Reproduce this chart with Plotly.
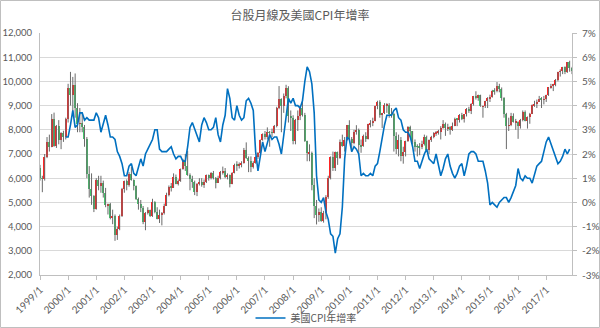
import plotly.graph_objects as go

# Monthly categories 1999/1 .. 2017/12
months = [f"{y}/{m}" for y in range(1999, 2018) for m in range(1, 13)]

# TAIEX monthly open / high / low / close
opens = [
    6418, 5998, 5975, 6880, 7500, 7300, 8467, 7326, 8157, 7598, 7854, 7721,
    8448, 9744, 9435, 9854, 8900, 8250, 8265, 8114, 7616, 6185, 5544, 5256,
    4739, 5936, 5674, 5797, 5381, 4880, 4930, 4350, 4450, 3636, 3903, 4441,
    5551, 5872, 5715, 6167, 5915, 5675, 5153, 4940, 4764, 4191, 4579, 4680,
    4452, 5000, 4600, 4322, 4480, 4555, 4872, 5318, 5650, 5612, 6045, 5771,
    5890, 6375, 6750, 6522, 6117, 5977, 5840, 5420, 5765, 5845, 5706, 5845,
    6140, 5994, 6207, 6006, 5819, 6011, 6241, 6312, 6033, 6118, 5765, 6203,
    6548, 6532, 6561, 6613, 7171, 6847, 6704, 6455, 6611, 6884, 7021, 7567,
    7823, 7699, 7901, 7884, 7875, 8145, 8883, 9287, 8982, 9411, 9711, 8586,
    8506, 7521, 8413, 8572, 8920, 8619, 7524, 7024, 7046, 5720, 4870, 4460,
    4591, 4248, 4557, 5211, 5992, 6890, 6432, 7077, 6826, 7509, 7340, 7582,
    8188, 7640, 7436, 7920, 8004, 7374, 7329, 7760, 7616, 8238, 8287, 8372,
    8973, 9145, 8600, 8683, 9008, 9044, 8652, 8644, 7741, 7225, 7588, 6904,
    7072, 7517, 8121, 7933, 7501, 7301, 7296, 7270, 7397, 7715, 7166, 7580,
    7699, 7850, 7907, 7918, 8093, 8254, 8062, 8107, 7993, 8173, 8450, 8406,
    8611, 8462, 8639, 8849, 8791, 9075, 9393, 9315, 9436, 8966, 8974, 9187,
    9307, 9361, 9622, 9586, 9820, 9701, 9323, 8665, 8174, 8181, 8554, 8320,
    8338, 8145, 8411, 8745, 8377, 8535, 8667, 9008, 9069, 9166, 9290, 9240,
    9254, 9448, 9751, 9812, 9872, 10041, 10395, 10427, 10586, 10384, 10794, 10560,
]
highs = [
    6550, 6100, 7000, 7700, 7800, 8650, 8710, 8200, 8400, 7900, 7960, 8500,
    9900, 10393, 10186, 10328, 9100, 8900, 8700, 8200, 7700, 6500, 6200, 5300,
    6000, 6100, 6100, 5900, 5600, 4950, 4980, 4700, 4500, 4000, 4500, 5600,
    5900, 5950, 6250, 6480, 5950, 5700, 5200, 5100, 4850, 4600, 4800, 4700,
    5150, 5050, 4800, 4700, 4600, 4950, 5400, 5700, 5800, 6200, 6150, 5950,
    6400, 6800, 7000, 7135, 6200, 6100, 5900, 5800, 6000, 6000, 5950, 6150,
    6150, 6250, 6300, 6050, 6100, 6300, 6480, 6420, 6200, 6150, 6250, 6600,
    6700, 6650, 6700, 7250, 7480, 6900, 6900, 6700, 6900, 7080, 7600, 7850,
    7950, 8100, 7950, 8050, 8200, 8950, 9807, 9300, 9500, 9860, 9800, 8800,
    8600, 8450, 8800, 9000, 9309, 8700, 7550, 7400, 7100, 6000, 5100, 4750,
    4800, 4650, 5300, 6100, 6900, 7100, 7100, 7100, 7600, 7800, 7700, 8200,
    8395, 7700, 8000, 8190, 8050, 7600, 7800, 7900, 8250, 8400, 8500, 9000,
    9200, 9220, 8700, 9100, 9100, 9100, 8900, 8700, 7900, 7800, 7700, 7300,
    7550, 8150, 8170, 7950, 7600, 7400, 7450, 7550, 7800, 7760, 7600, 7750,
    7900, 7950, 8000, 8150, 8400, 8300, 8250, 8150, 8300, 8500, 8460, 8650,
    8700, 8650, 8900, 8950, 9100, 9400, 9593, 9450, 9450, 9000, 9200, 9350,
    9450, 9650, 9720, 9973, 9900, 9750, 9350, 8700, 8500, 8700, 8680, 8450,
    8350, 8450, 8800, 8800, 8550, 8700, 9050, 9200, 9250, 9400, 9350, 9400,
    9450, 9760, 9900, 9900, 10100, 10400, 10500, 10600, 10620, 10800, 10854, 10600,
]
lows = [
    5900, 5422, 5900, 6830, 7100, 7280, 7300, 7250, 7400, 7200, 7500, 7600,
    8300, 9000, 8600, 8500, 7900, 7900, 7900, 7300, 6000, 5200, 4900, 4600,
    4700, 5500, 5400, 5200, 4800, 4500, 4300, 4100, 3411, 3450, 3850, 4400,
    5400, 5500, 5650, 5900, 5500, 5100, 4700, 4600, 4100, 3850, 4500, 4400,
    4400, 4550, 4300, 4150, 4050, 4500, 4850, 5250, 5450, 5600, 5750, 5700,
    5850, 6350, 6300, 6100, 5500, 5600, 5300, 5260, 5700, 5650, 5600, 5800,
    5900, 5950, 5950, 5580, 5800, 5950, 6150, 6000, 5950, 5620, 5750, 6200,
    6300, 6400, 6450, 6600, 6800, 6250, 6250, 6400, 6600, 6800, 7000, 7550,
    7600, 7600, 7300, 7700, 7850, 8100, 8850, 7900, 8700, 9300, 8300, 7950,
    7400, 7400, 7950, 8400, 8550, 7500, 6700, 6700, 5500, 4350, 4089, 4200,
    4200, 4164, 4300, 5150, 5950, 6300, 6300, 6550, 6800, 7300, 7100, 7550,
    7600, 7080, 7400, 7800, 7000, 7050, 7300, 7500, 7600, 8100, 8150, 8350,
    8850, 8500, 8070, 8650, 8700, 8500, 8500, 7100, 7000, 6900, 6700, 6600,
    6900, 7500, 7700, 7400, 7100, 6900, 6950, 7200, 7350, 7100, 7000, 7500,
    7650, 7750, 7800, 7600, 8050, 7750, 7950, 7800, 7950, 8150, 8150, 8300,
    8400, 8300, 8550, 8700, 8650, 9000, 9250, 9200, 8950, 8500, 8900, 8900,
    9150, 9330, 9450, 9550, 9550, 9200, 8500, 7203, 7950, 8150, 8300, 8000,
    7627, 8050, 8350, 8350, 8050, 8250, 8650, 8950, 8900, 9150, 8900, 9050,
    9150, 9400, 9700, 9600, 9800, 10000, 10200, 10300, 10300, 10350, 10400, 10300,
]
closes = [
    5998, 5975, 6880, 7500, 7300, 8467, 7326, 8157, 7598, 7854, 7721, 8448,
    9744, 9435, 9854, 8900, 8250, 8265, 8114, 7616, 6185, 5544, 5256, 4739,
    5936, 5674, 5797, 5381, 4880, 4930, 4350, 4450, 3636, 3903, 4441, 5551,
    5872, 5715, 6167, 5915, 5675, 5153, 4940, 4764, 4191, 4579, 4680, 4452,
    5000, 4600, 4322, 4480, 4555, 4872, 5318, 5650, 5612, 6045, 5771, 5890,
    6375, 6750, 6522, 6117, 5977, 5840, 5420, 5765, 5845, 5706, 5845, 6140,
    5994, 6207, 6006, 5819, 6011, 6241, 6312, 6033, 6118, 5765, 6203, 6548,
    6532, 6561, 6613, 7171, 6847, 6704, 6455, 6611, 6884, 7021, 7567, 7823,
    7699, 7901, 7884, 7875, 8145, 8883, 9287, 8982, 9411, 9711, 8586, 8506,
    7521, 8413, 8572, 8920, 8619, 7524, 7024, 7046, 5720, 4870, 4460, 4591,
    4248, 4557, 5211, 5992, 6890, 6432, 7077, 6826, 7509, 7340, 7582, 8188,
    7640, 7436, 7920, 8004, 7374, 7329, 7760, 7616, 8238, 8287, 8372, 8973,
    9145, 8600, 8683, 9008, 9044, 8652, 8644, 7741, 7225, 7588, 6904, 7072,
    7517, 8121, 7933, 7501, 7301, 7296, 7270, 7397, 7715, 7166, 7580, 7699,
    7850, 7907, 7918, 8093, 8254, 8062, 8107, 7993, 8173, 8450, 8406, 8611,
    8462, 8639, 8849, 8791, 9075, 9393, 9315, 9436, 8966, 8974, 9187, 9307,
    9361, 9622, 9586, 9820, 9701, 9323, 8665, 8174, 8181, 8554, 8320, 8338,
    8145, 8411, 8745, 8377, 8535, 8667, 9008, 9069, 9166, 9290, 9240, 9254,
    9448, 9751, 9812, 9872, 10041, 10395, 10427, 10586, 10384, 10794, 10560, 10450,
]

# US CPI, year-over-year change (%)
cpi_yoy = [
    None, None, None, None, None, None, None, None, None, None, None, 2.7,
    2.7, 3.2, 3.8, 3.1, 3.2, 3.7, 3.7, 3.4, 3.5, 3.4, 3.4, 3.4,
    3.7, 3.5, 2.9, 3.3, 3.6, 3.2, 2.7, 2.7, 2.6, 2.1, 1.9, 1.6,
    1.1, 1.1, 1.5, 1.6, 1.2, 1.1, 1.5, 1.8, 1.5, 2.0, 2.2, 2.4,
    2.6, 3.0, 3.0, 2.2, 2.1, 2.1, 2.1, 2.2, 2.3, 2.0, 1.8, 1.9,
    1.9, 1.7, 1.7, 2.3, 3.1, 3.3, 3.0, 2.7, 2.5, 3.2, 3.5, 3.3,
    3.0, 3.0, 3.1, 3.5, 2.8, 2.5, 3.2, 3.6, 4.7, 4.3, 3.5, 3.4,
    4.0, 3.6, 3.4, 3.5, 4.2, 4.3, 4.1, 3.8, 2.1, 1.3, 2.0, 2.5,
    2.1, 2.4, 2.8, 2.6, 2.7, 2.7, 2.4, 2.0, 2.8, 3.5, 4.3, 4.1,
    4.3, 4.0, 4.0, 3.9, 4.2, 5.0, 5.6, 5.4, 4.9, 3.7, 1.1, 0.1,
    0.0, 0.2, -0.4, -0.7, -1.3, -1.4, -2.1, -1.5, -1.3, -0.2, 1.8, 2.7,
    2.6, 2.1, 2.3, 2.2, 2.0, 1.1, 1.2, 1.1, 1.1, 1.2, 1.1, 1.5,
    1.6, 2.1, 2.7, 3.2, 3.6, 3.6, 3.6, 3.8, 3.9, 3.5, 3.4, 3.0,
    2.9, 2.9, 2.7, 2.3, 1.7, 1.7, 1.4, 1.7, 2.0, 2.2, 1.8, 1.7,
    1.6, 2.0, 1.5, 1.1, 1.4, 1.8, 2.0, 1.5, 1.2, 1.0, 1.2, 1.5,
    1.6, 1.1, 1.5, 2.0, 2.1, 2.1, 2.0, 1.7, 1.7, 1.7, 1.3, 0.8,
    -0.1, 0.0, -0.1, -0.2, 0.0, 0.1, 0.2, 0.2, 0.0, 0.2, 0.5, 0.7,
    1.4, 1.0, 0.9, 1.1, 1.0, 1.0, 0.8, 1.1, 1.5, 1.6, 1.7, 2.1,
    2.5, 2.7, 2.4, 2.2, 1.9, 1.6, 1.7, 1.9, 2.2, 2.0, 2.2, None,
]

# Axis tick values
index_ticks = list(range(2000, 12001, 1000))
pct_ticks = list(range(-3, 8))

UP = "#FF2424"
DOWN = "#46C46C"
WICK = "#6a6a6a"
GRID = "#D9D9D9"
AXIS = "#BFBFBF"
TEXT = "#595959"
CJK = "Noto Sans CJK TC"
LATIN = "Lato, Noto Sans CJK TC, sans-serif"

idx = list(range(len(months)))

# high-low wicks as one broken line
wick_x, wick_y = [], []
for i, h, l in zip(idx, highs, lows):
    wick_x += [i, i, None]
    wick_y += [l, h, None]

body_base = [min(o, c) for o, c in zip(opens, closes)]
body_len = [abs(c - o) for o, c in zip(opens, closes)]
body_col = [UP if c >= o else DOWN for o, c in zip(opens, closes)]

fig = go.Figure()
fig.add_trace(go.Scatter(
    x=wick_x, y=wick_y, mode="lines",
    line=dict(color=WICK, width=1),
    showlegend=False, hoverinfo="skip",
))
fig.add_trace(go.Bar(
    x=idx, y=body_len, base=body_base, width=0.6,
    marker=dict(color=body_col, line=dict(width=0)),
    showlegend=False,
))
fig.add_trace(go.Scatter(
    x=idx, y=cpi_yoy, yaxis="y2", mode="lines",
    name="美國CPI年增率",
    line=dict(color="#0070C0", width=1.6),
    connectgaps=False,
))

year_ticks = [i for i in idx if months[i].endswith("/1")]

fig.update_layout(
    width=600, height=328,
    margin=dict(l=40, r=28, t=33, b=53, autoexpand=False),
    paper_bgcolor="white", plot_bgcolor="white",
    font=dict(family=LATIN, size=10, color=TEXT),
    title=dict(
        text="台股月線及美國CPI年增率",
        x=0.5, xanchor="center", y=1 - 16 / 328, yanchor="middle",
        font=dict(family=CJK, size=12, color=TEXT),
    ),
    bargap=0,
    xaxis=dict(
        range=[0, len(months) - 1], automargin=False,
        tickmode="array", tickvals=year_ticks,
        ticktext=[months[i] for i in year_ticks],
        tickangle=-45, ticks="outside", ticklen=4, tickcolor=AXIS,
        showline=True, linecolor=AXIS, linewidth=1,
        showgrid=False, zeroline=False,
        tickfont=dict(family=LATIN, size=10, color=TEXT),
    ),
    yaxis=dict(
        range=[2000, 12000], automargin=False,
        tickmode="array", tickvals=index_ticks,
        tickformat=",", showgrid=True, gridcolor=GRID, gridwidth=1,
        showline=True, linecolor=AXIS, zeroline=False,
        ticklabelstandoff=5,
        tickfont=dict(family=LATIN, size=9.5, color=TEXT),
    ),
    yaxis2=dict(
        range=[-3, 7], overlaying="y", side="right", automargin=False,
        tickmode="array", tickvals=pct_ticks,
        ticktext=[f"{v}%" for v in pct_ticks],
        showgrid=False, zeroline=False,
        showline=True, linecolor=AXIS,
        ticks="outside", ticklen=4, tickcolor=AXIS,
        ticklabelstandoff=3,
        tickfont=dict(family=LATIN, size=10, color=TEXT),
    ),
    legend=dict(
        orientation="h", x=0.5, xanchor="center",
        yref="container", y=1 - 318 / 328, yanchor="middle",
        itemwidth=30,
        font=dict(family=CJK, size=10, color=TEXT),
        bgcolor="rgba(0,0,0,0)",
    ),
    shapes=[dict(
        type="rect", xref="paper", yref="paper",
        x0=(0.5 - 40) / 532, x1=(599.5 - 40) / 532,
        y0=(275 - 327.5) / 242, y1=(275 - 0.5) / 242,
        line=dict(color=AXIS, width=1), fillcolor="rgba(0,0,0,0)",
        layer="below",
    )],
)

fig.write_html("out.html")
